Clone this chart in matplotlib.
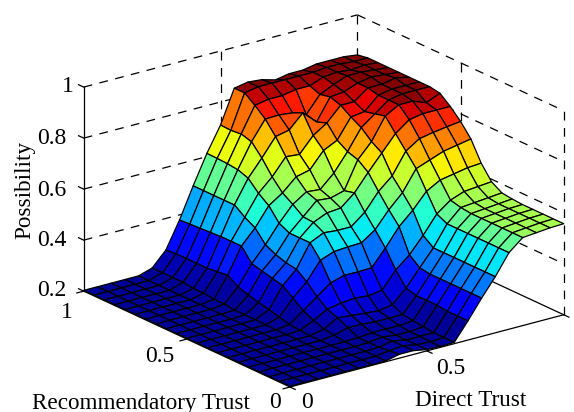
import numpy as np
import matplotlib
matplotlib.use("Agg")
import matplotlib.pyplot as plt
from mpl_toolkits.mplot3d import proj3d

direct_trust = [i / 20 for i in range(21)]
recommend_trust = [i / 20 for i in range(21)]

r000 = [.203,.203,.203,.203,.203,.203,.203,.203,.215,.215,.205,.203,.205,.275,.35,.42,.50,.545,.55,.555,.557]
r005 = [.203,.203,.203,.203,.203,.203,.203,.203,.21,.215,.205,.203,.205,.275,.35,.42,.50,.545,.55,.555,.557]
r010 = [.203,.203,.203,.203,.203,.203,.203,.203,.205,.215,.205,.205,.205,.275,.35,.42,.50,.545,.55,.555,.557]
r015 = [.203,.203,.203,.203,.203,.203,.203,.203,.205,.212,.205,.205,.21,.28,.35,.42,.50,.545,.55,.555,.557]
r020 = [.203,.203,.203,.203,.203,.203,.203,.203,.205,.21,.21,.21,.215,.28,.35,.42,.50,.545,.55,.555,.557]
r025 = [.203,.203,.203,.203,.203,.203,.203,.21,.225,.225,.22,.22,.22,.28,.35,.42,.50,.545,.55,.555,.56]
r030 = [.203,.203,.203,.203,.203,.203,.203,.215,.245,.24,.235,.23,.24,.29,.356,.42,.50,.55,.555,.56,.565]
r035 = [.203,.203,.203,.203,.203,.203,.205,.23,.26,.27,.275,.27,.278,.343,.388,.45,.52,.56,.58,.585,.59]
r040 = [.203,.203,.203,.203,.203,.203,.21,.25,.29,.33,.346,.345,.347,.41,.48,.53,.59,.62,.63,.64,.644]
r045 = [.203,.203,.203,.203,.203,.203,.22,.28,.33,.40,.42,.424,.426,.463,.527,.58,.66,.68,.70,.71,.72]
r050 = [.203,.203,.203,.203,.203,.205,.23,.31,.36,.45,.475,.47,.47,.513,.58,.627,.71,.745,.755,.763,.77]
r055 = [.203,.203,.203,.203,.203,.205,.24,.32,.367,.45,.497,.52,.525,.57,.636,.698,.76,.80,.81,.81,.81]
r060 = [.203,.203,.203,.203,.203,.205,.25,.33,.38,.45,.50,.55,.545,.56,.667,.724,.81,.84,.84,.82,.843]
r065 = [.203,.203,.203,.203,.203,.21,.263,.34,.40,.47,.53,.565,.56,.61,.68,.76,.80,.84,.85,.85,.85]
r070 = [.203,.203,.203,.203,.203,.21,.29,.39,.447,.52,.556,.605,.618,.68,.706,.783,.79,.84,.85,.85,.85]
r075 = [.203,.203,.203,.203,.203,.215,.285,.39,.47,.55,.60,.665,.66,.72,.755,.81,.81,.85,.85,.86,.85]
r080 = [.203,.203,.203,.203,.203,.215,.28,.39,.50,.59,.655,.725,.737,.79,.74,.824,.83,.85,.86,.855,.85]
r085 = [.203,.203,.203,.203,.203,.22,.28,.388,.50,.605,.70,.775,.777,.771,.75,.815,.84,.86,.86,.855,.85]
r090 = [.203,.203,.203,.203,.203,.22,.28,.385,.50,.61,.712,.81,.82,.82,.83,.83,.85,.855,.85,.855,.85]
r095 = [.203,.203,.203,.203,.203,.22,.28,.383,.50,.612,.708,.84,.85,.85,.85,.85,.85,.855,.855,.85,.85]
r100 = [.203,.203,.203,.203,.203,.22,.276,.38,.50,.613,.71,.84,.85,.845,.83,.84,.84,.85,.85,.85,.843]

z_ticks = [0.2, 0.4, 0.6, 0.8, 1]
z_labels = ["0.2", "0.4", "0.6", "0.8", "1"]
xy_grid = [0, 0.5, 1]

Z = np.array([r000, r005, r010, r015, r020, r025, r030, r035, r040, r045, r050,
              r055, r060, r065, r070, r075, r080, r085, r090, r095, r100])
X, Y = np.meshgrid(direct_trust, recommend_trust)

W, H = 574, 412
plt.rcParams['font.family'] = ['Liberation Serif', 'DejaVu Serif']
fig = plt.figure(figsize=(W / 100, H / 100), dpi=100)
ax = fig.add_axes([-0.5, -0.5, 2, 2], projection='3d')
ax.set_proj_type('ortho')
ax.view_init(elev=20.5, azim=-127)
ax.set_xlim(0, 1); ax.set_ylim(0, 1); ax.set_zlim(0.2, 1)
ax.set_axis_off()
ax.computed_zorder = False
ax.patch.set_alpha(0)

colors = plt.cm.jet(np.clip((Z - 0.19) / 0.66, 0, 1))
ax.plot_surface(X, Y, Z, rstride=1, cstride=1, facecolors=colors, edgecolor='black',
                linewidth=0.9, shade=False, antialiased=True, zorder=5)

dash = dict(color='black', lw=0.9, ls=(0, (7, 6)), zorder=1)
solid = dict(color='black', lw=0.9, zorder=8)
# walls
for z in z_ticks[1:]:
    ax.plot([0, 1], [1, 1], [z, z], **dash)
    ax.plot([1, 1], [1, 0], [z, z], **dash)
for v in [0.5, 1]:
    ax.plot([v, v], [1, 1], [0.2, 1], **dash)
ax.plot([1, 1], [0.5, 0.5], [0.2, 1], **dash)
ax.plot([1, 1], [0, 0], [0.2, 1], **dash)
ax.plot([1, 1], [1, 0], [0.2, 0.2], color='black', lw=0.9, zorder=1)
# axes
ax.plot([0, 0], [1, 1], [0.2, 1], **solid)
ax.plot([0, 0], [0, 1], [0.2, 0.2], **solid)
ax.plot([0, 1], [0, 0], [0.2, 0.2], **solid)
for z in z_ticks:
    ax.plot([0, 0], [1, 1.025], [z, z], **solid)
for v in xy_grid:
    ax.plot([0, -0.025], [v, v], [0.2, 0.2], **solid)
    ax.plot([v, v], [0, -0.025], [0.2, 0.2], **solid)


def place():
    """fit the box so its floor corners land on the reference's."""
    for _ in range(3):
        fig.canvas.draw()
        def px(a, b, c):
            p, q, _z = proj3d.proj_transform(a, b, c, ax.get_proj())
            return ax.transData.transform((p, q))
        left, front, right = px(0, 1, .2), px(0, 0, .2), px(1, 0, .2)
        scale = (563 - 83) / (right[0] - left[0])
        z = getattr(ax, '_zm', 1.0) * scale
        ax._zm = z
        ax.set_box_aspect((343, 343, 218), zoom=z)
        fig.canvas.draw()
        front = px(0, 0, .2)
        pos = ax.get_position(original=True)
        dx = (290 - front[0]) / W
        dy = ((H - 387) - front[1]) / H
        ax.set_position([pos.x0 + dx, pos.y0 + dy, pos.width, pos.height])

place()


def T(x, y, s, size=17, **kw):
    fig.text(x / W, 1 - y / H, s, fontsize=size, ha='center', va='center', **kw)

for lab, (x, y) in zip(z_labels, [(52, 291), (52, 241), (52, 191), (52, 139), (68, 86)]):
    T(x, y, lab)
T(67, 312, "1"); T(160, 357, "0.5"); T(275, 403, "0")
T(307, 403, "0"); T(451, 368, "0.5")
T(25, 190, "Possibility", size=16.7, rotation=90)
T(141, 403, "Recommendatory Trust", size=16.7)
T(471, 400, "Direct Trust", size=16.7)

fig.savefig("out.png", dpi=100)
